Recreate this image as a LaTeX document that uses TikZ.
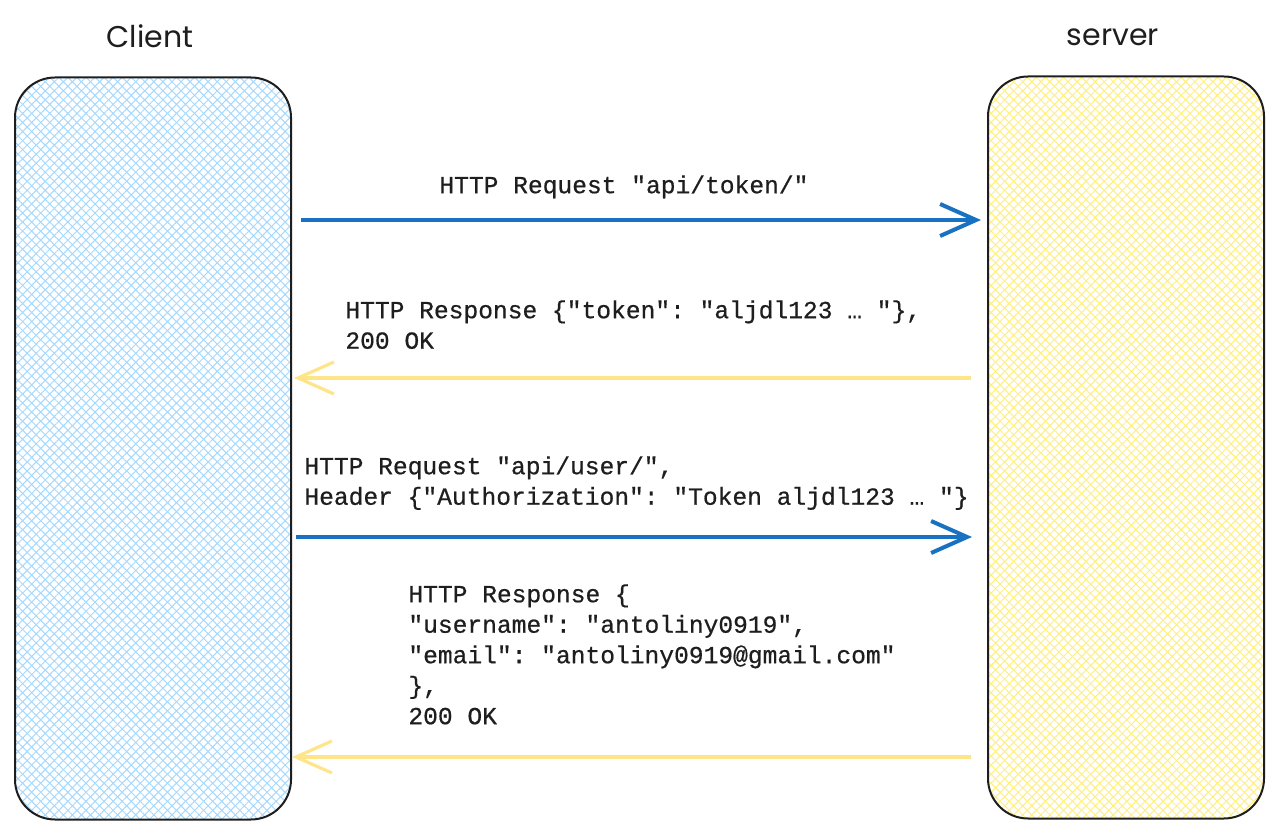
\documentclass[tikz,border=0pt]{standalone}
\usepackage{fontspec}
\setmonofont[FakeBold=0.6]{Liberation Mono}
\newfontfamily\titlefont{Poppins}
\usetikzlibrary{arrows.meta,patterns.meta}

\definecolor{reqblue}{HTML}{1971C2}
\definecolor{resyellow}{HTML}{FFE58A}
\definecolor{hatchblue}{HTML}{A5D8FF}
\definecolor{hatchyellow}{HTML}{FFEE80}
\definecolor{inkgray}{HTML}{1E1E1E}

\begin{document}
\begin{tikzpicture}[x=0.5pt,y=-0.5pt,
    party/.style={draw=inkgray, line width=1pt, rounded corners=20pt,
        minimum width=138pt, minimum height=371pt, inner sep=0pt},
    clientfill/.style={
        preaction={pattern={Lines[angle=45,distance=3.2pt,line width=0.5pt]}, pattern color=hatchblue},
        preaction={pattern={Lines[angle=-45,distance=3.2pt,line width=0.5pt]}, pattern color=hatchblue}},
    serverfill/.style={
        preaction={pattern={Lines[angle=45,distance=3.2pt,line width=0.5pt]}, pattern color=hatchyellow},
        preaction={pattern={Lines[angle=-45,distance=3.2pt,line width=0.5pt]}, pattern color=hatchyellow}},
    title/.style={text=inkgray, font=\titlefont\fontsize{15}{18}\selectfont},
    msg/.style={text=inkgray, align=left, inner sep=0pt, anchor=north west,
        font=\ttfamily\fontsize{12.3}{15.25}\selectfont},
    reqarrow/.style={draw=reqblue, line width=2pt, -{Straight Barb[length=18pt,width=16pt]}},
    resarrow/.style={draw=resyellow, line width=1.6pt, -{Straight Barb[length=18pt,width=16pt]}}]

    \useasboundingbox (0,0) rectangle (1280,833);

    % Draw the two parties
    \node[party, clientfill] (client) at (153,448.5) {};
    \node[party, serverfill] (server) at (1126,447.5) {};
    \node[title] (clientname) at (150,36) {Client};
    \node[title] (servername) at (1113,37) {server};

    % Draw messages
    \node[msg] (req1) at (439,175) {HTTP Request "api/token/"};
    \node[msg] (res1) at (345,300) {HTTP Response \{"token": "aljdl123 … "\},\\200 OK};
    \node[msg] (req2) at (304,456) {HTTP Request "api/user/",\\Header \{"Authorization": "Token aljdl123 … "\}};
    \node[msg] (res2) at (408,584) {HTTP Response \{\\"username": "antoliny0919",\\"email": "antoliny0919@gmail.com"\\\},\\200 OK};

    % Draw arrows between the parties
    \coordinate (y1) at (0,220);
    \coordinate (y2) at (0,378);
    \coordinate (y3) at (0,537);
    \coordinate (y4) at (0,757);
    \draw[reqarrow, shorten <=4.5pt, shorten >=3pt] (client.east |- y1) -- (server.west |- y1);
    \draw[resarrow, shorten <=8pt, shorten >=1pt] (server.west |- y2) -- (client.east |- y2);
    \draw[reqarrow, shorten <=2pt, shorten >=7.5pt] (client.east |- y3) -- (server.west |- y3);
    \draw[resarrow, shorten <=8pt, shorten >=0pt] (server.west |- y4) -- (client.east |- y4);
\end{tikzpicture}
\end{document}
